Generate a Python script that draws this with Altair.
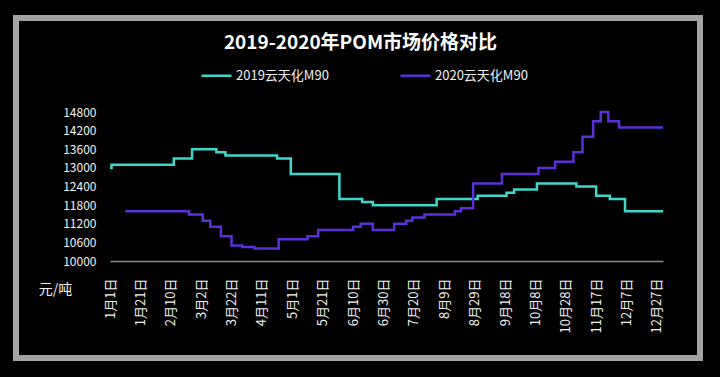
import altair as alt
import pandas as pd

# ---- data ----
series_names = ["2019云天化M90", "2020云天化M90"]

dates_2019 = ["01-01", "01-02", "02-12", "02-24", "03-12", "03-18", "04-21", "04-30",
              "06-01", "06-16", "06-23", "08-04", "08-31", "09-19", "09-24", "10-09",
              "11-04", "11-17", "11-26", "12-06", "12-31"]
values_2019 = [13000, 13100, 13300, 13600, 13500, 13400, 13300, 12800,
               12000, 11900, 11800, 12000, 12100, 12200, 12300, 12500,
               12400, 12100, 12000, 11600, 11600]

dates_2020 = ["01-11", "02-22", "03-03", "03-08", "03-15", "03-22", "03-29", "04-06",
              "04-22", "05-11", "05-18", "06-10", "06-15", "06-23", "07-07", "07-15",
              "07-19", "07-27", "08-16", "08-20", "08-28", "09-16", "10-10", "10-21",
              "11-02", "11-08", "11-15", "11-20", "11-25", "12-02", "12-31"]
values_2020 = [11600, 11500, 11300, 11100, 10800, 10500, 10450, 10400,
               10700, 10800, 11000, 11100, 11200, 11000, 11200, 11300,
               11400, 11500, 11600, 11700, 12500, 12800, 13000, 13200,
               13500, 14000, 14500, 14800, 14500, 14300, 14300]

tick_labels = ["1月1日", "1月21日", "2月10日", "3月2日", "3月22日", "4月11日", "5月1日",
               "5月21日", "6月10日", "6月30日", "7月20日", "8月9日", "8月29日", "9月18日",
               "10月8日", "10月28日", "11月17日", "12月7日", "12月27日"]
y_ticks = [10000, 10600, 11200, 11800, 12400, 13000, 13600, 14200, 14800]

title_text = "2019-2020年POM市场价格对比"
unit_text = "元/吨"

# ---- build table ----
def day_index(mmdd):
    return int(pd.Timestamp("2019-" + mmdd).dayofyear) - 1

rows = []
for name, ds, vs in [(series_names[0], dates_2019, values_2019),
                     (series_names[1], dates_2020, values_2020)]:
    for d, v in zip(ds, vs):
        rows.append({"series": name, "day": day_index(d), "value": v})
df = pd.DataFrame(rows)

tick_days = [i * 20 for i in range(len(tick_labels))]
label_array = "[" + ",".join("'" + t + "'" for t in tick_labels) + "]"

FONT = "Noto Sans CJK SC"
TXT = "#f2f2f2"
TEAL = "#3ED8CA"
PURPLE = "#5A30DA"

frame = alt.Chart(pd.DataFrame({"k": [0]})).mark_rect(
    filled=False, stroke="#a3a3a3", strokeWidth=6
).encode(
    x=alt.value(-94), x2=alt.value(590), y=alt.value(-94), y2=alt.value(246)
)

lines = alt.Chart(df).mark_line(interpolate="step-after", strokeWidth=2.5).encode(
    x=alt.X("day:Q",
            scale=alt.Scale(domain=[0, 364], nice=False, zero=False),
            axis=alt.Axis(values=tick_days, labelExpr=label_array + "[round(datum.value/20)]",
                          labelAngle=270, labelAlign="right", labelBaseline="middle",
                          labelPadding=17, ticks=False, grid=False, title=None,
                          domainColor="#8c8c8c", domainWidth=1.5,
                          labelColor=TXT, labelFont=FONT, labelFontSize=13,
                          labelOverlap=False)),
    y=alt.Y("value:Q",
            scale=alt.Scale(domain=[10000, 14800], nice=False, zero=False),
            axis=alt.Axis(values=y_ticks, format="d", domain=False, ticks=False, grid=False,
                          labelPadding=14, labelColor=TXT, labelFont=FONT, labelFontSize=12,
                          title=unit_text, titleAngle=0, titleX=-55, titleY=177,
                          titleAlign="center", titleBaseline="middle",
                          titleColor=TXT, titleFont=FONT, titleFontSize=14,
                          titleFontWeight="normal")),
    color=alt.Color("series:N",
                    scale=alt.Scale(domain=series_names, range=[TEAL, PURPLE]),
                    legend=alt.Legend(orient="none", legendX=90, legendY=-53,
                                      direction="horizontal", title=None,
                                      symbolType="stroke", symbolSize=900,
                                      symbolStrokeWidth=2.5, labelColor=TXT,
                                      labelFont=FONT, labelFontSize=13,
                                      columnPadding=66, labelOffset=3, padding=0))
)

chart = alt.layer(frame, lines).properties(
    width=553, height=149,
    title=alt.TitleParams(title_text, color="#ffffff", font=FONT, fontSize=19,
                          fontWeight="bold", anchor="middle", dx=-26, offset=0, dy=38),
    autosize=alt.AutoSizeParams(type="none"),
    padding={"left": 110, "top": 112, "right": 57, "bottom": 116},
).configure(background="#000000").configure_view(stroke=None)

chart.save("out.html", embed_options={"renderer": "svg", "actions": False})
